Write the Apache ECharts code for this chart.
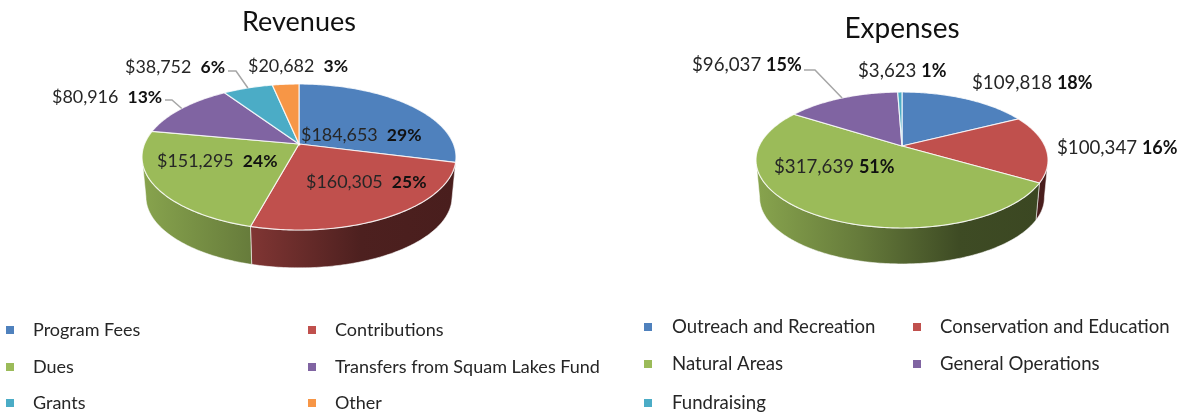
<!DOCTYPE html>
<html>
<head>
<meta charset="utf-8">
<title>Revenues and Expenses</title>
<script src="https://cdn.jsdelivr.net/npm/echarts@6/dist/echarts.min.js"></script>
<style>
html, body { margin: 0; padding: 0; background: #fff; }
#main { width: 1185px; height: 412px; }
</style>
</head>
<body>
<div id="main"></div>
<script>
// chart data
var revenueCategories = ['Program Fees', 'Contributions', 'Dues', 'Transfers from Squam Lakes Fund', 'Grants', 'Other'];
var revenueValues = [184653, 160305, 151295, 80916, 38752, 20682];
var expenseCategories = ['Outreach and Recreation', 'Conservation and Education', 'Natural Areas', 'General Operations', 'Fundraising'];
var expenseValues = [109818, 100347, 317639, 96037, 3623];
var sliceColors = ['#4f81bd', '#c0504d', '#9bbb59', '#8064a2', '#4bacc6', '#f79646'];

// layout only, the angles come from the values
var revenuePie = {
    title: 'Revenues', titleY: 22, titleSize: 27,
    cx: 299, apexY: 144, rx: 154.5, ry: 70.7, persp: 0.178, floorY: 184,
    gap: '  ', valueSize: 17.9, percentSize: 17.5,
    labelX: [301, 306, 157, 52, 125, 248],
    labelY: [135, 182, 161, 97, 67, 66],
    leaders: { 3: [165, 100, 172, 100], 4: [228, 71, 236, 71] },
    legendSize: 18,
    legendX: [6, 308, 6, 308, 6, 308],
    legendY: [330, 330, 367, 367, 403, 403],
    legendText: [33, 335, 33, 335, 33, 335]
};
var expensePie = {
    title: 'Expenses', titleY: 29, titleSize: 28,
    cx: 902, apexY: 146, rx: 142.9, ry: 65.1, persp: 0.206, floorY: 184,
    gap: ' ', valueSize: 18.7, percentSize: 18,
    labelX: [972, 1057, 774, 692, 858],
    labelY: [83, 148, 167, 65, 71],
    leaders: { 3: [804, 70, 815, 70] },
    legendSize: 18.6,
    legendX: [644, 913, 644, 913, 644],
    legendY: [327, 327, 364, 364, 403],
    legendText: [672, 940, 672, 940, 672]
};

var FONT = 'Lato, "Open Sans", sans-serif';

function project(pie, angle, floor) {
    // perspective view of a disc, angle runs clockwise from the top
    var u = Math.sin(angle), v = -Math.cos(angle);
    var w = 1 - pie.persp * v;
    var s = floor ? 0.975 : 1;
    return [
        pie.cx + pie.rx * s * u / w,
        (floor ? pie.floorY : pie.apexY) + pie.ry * s * v / w
    ];
}

function arcPoints(pie, from, to, floor) {
    var pts = [];
    var n = Math.max(2, Math.ceil(Math.abs(to - from) / 0.015));
    for (var i = 0; i <= n; i++) {
        pts.push(project(pie, from + (to - from) * i / n, floor));
    }
    return pts;
}

function shade(hex, f) {
    var r = parseInt(hex.substr(1, 2), 16), g = parseInt(hex.substr(3, 2), 16), b = parseInt(hex.substr(5, 2), 16);
    return 'rgb(' + Math.round(r * f) + ',' + Math.round(g * f) + ',' + Math.round(b * f) + ')';
}

function money(v) {
    return '$' + v.toString().replace(/\B(?=(\d{3})+$)/g, ',');
}

function sliceSeries(pie, categories, values, index) {
    var total = values.reduce(function (a, b) { return a + b; }, 0);
    var before = values.slice(0, index).reduce(function (a, b) { return a + b; }, 0);
    var color = sliceColors[index];

    return {
        type: 'custom',
        name: categories[index],
        coordinateSystem: 'none',
        itemStyle: { color: color },
        data: [values[index]],
        silent: true,
        renderItem: function (params, api) {
            var value = api.value(0);
            var start = before / total * Math.PI * 2;
            var end = (before + value) / total * Math.PI * 2;
            var children = [];

            // side wall, only the part facing the viewer
            var limit = Math.acos(-pie.persp);
            var from = Math.max(start, limit);
            var to = Math.min(end, Math.PI * 2 - limit);
            if (to > from) {
                var wall = arcPoints(pie, from, to, false).concat(arcPoints(pie, to, from, true));
                children.push({
                    type: 'polygon',
                    shape: { points: wall },
                    style: {
                        fill: new echarts.graphic.LinearGradient(pie.cx - pie.rx, 0, pie.cx + pie.rx, 0, [
                            { offset: 0, color: shade(color, 0.87) },
                            { offset: 0.35, color: shade(color, 0.66) },
                            { offset: 0.7, color: shade(color, 0.4) },
                            { offset: 1, color: shade(color, 0.38) }
                        ], true),
                        stroke: 'rgba(255,255,255,0.55)',
                        lineWidth: 1
                    }
                });
            }

            // top face
            var top = [[pie.cx, pie.apexY]].concat(arcPoints(pie, start, end, false));
            children.push({
                type: 'polygon',
                shape: { points: top },
                z2: 2,
                style: { fill: color, stroke: 'rgba(255,255,255,0.8)', lineWidth: 1.2 }
            });

            // leader line for the small slices
            var leader = pie.leaders[index];
            if (leader) {
                var rim = project(pie, (start + end) / 2, false);
                children.push({
                    type: 'polyline',
                    z2: 5,
                    shape: { points: [[leader[0], leader[1]], [leader[2], leader[3]], rim] },
                    style: { fill: null, stroke: '#a6a6a6', lineWidth: 1.5 }
                });
            }

            children.push({
                type: 'text',
                z2: 10,
                style: {
                    x: pie.labelX[index],
                    y: pie.labelY[index],
                    text: '{v|' + money(value) + pie.gap + '}{p|' + Math.round(value / total * 100) + '%}',
                    verticalAlign: 'middle',
                    rich: {
                        v: { fontFamily: FONT, fontSize: pie.valueSize, fill: '#262626', color: '#262626' },
                        p: { fontFamily: FONT, fontSize: pie.percentSize, fontWeight: 'bold', fill: '#111', color: '#111' }
                    }
                }
            });
            return { type: 'group', children: children };
        }
    };
}

function buildSeries(pie, categories, values) {
    return categories.map(function (c, i) { return sliceSeries(pie, categories, values, i); });
}

function buildLegends(pie, categories) {
    return categories.map(function (c, i) {
        return {
            data: [c],
            left: pie.legendX[i],
            top: pie.legendY[i] - 10,
            selectedMode: false,
            icon: 'rect',
            itemWidth: 8,
            itemHeight: 8,
            padding: 0,
            textStyle: {
                fontFamily: FONT,
                fontSize: pie.legendSize,
                color: '#262626',
                lineHeight: 20,
                padding: [0, 0, 0, pie.legendText[i] - pie.legendX[i] - 13]
            }
        };
    });
}

var myChart = echarts.init(document.getElementById('main'));
myChart.setOption({
    animation: false,
    backgroundColor: '#fff',
    title: [revenuePie, expensePie].map(function (pie) {
        return {
            text: pie.title,
            left: pie.cx,
            top: pie.titleY - 17,
            textAlign: 'center',
            padding: 0,
            textStyle: { fontFamily: FONT, fontSize: pie.titleSize, fontWeight: 'normal', color: '#111', lineHeight: 34 }
        };
    }),
    legend: buildLegends(revenuePie, revenueCategories).concat(buildLegends(expensePie, expenseCategories)),
    series: buildSeries(revenuePie, revenueCategories, revenueValues).concat(buildSeries(expensePie, expenseCategories, expenseValues))
});
</script>
</body>
</html>
